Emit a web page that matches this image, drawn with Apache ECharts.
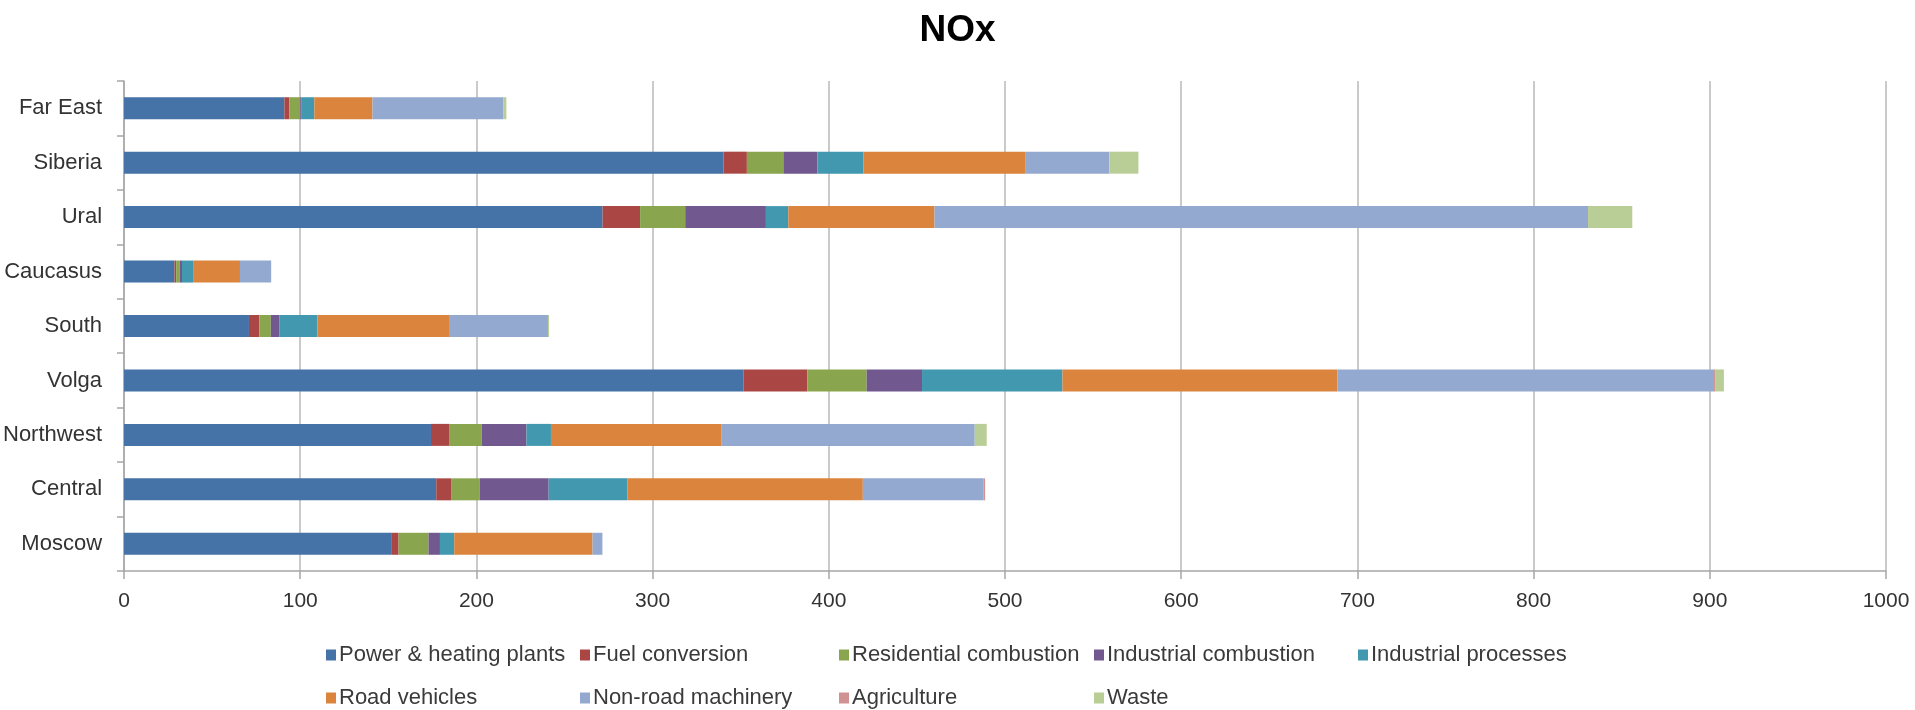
<!DOCTYPE html>
<html>
<head>
<meta charset="utf-8">
<script src="https://cdn.jsdelivr.net/npm/echarts@6/dist/echarts.min.js"></script>
<style>
html,body{margin:0;padding:0;background:#fff;}
#chart{width:1915px;height:710px;}
</style>
</head>
<body>
<div id="chart"></div>
<script>
// Categories (bottom to top, as drawn by a category y-axis)
const regions = ['Moscow', 'Central', 'Northwest', 'Volga', 'South', 'Caucasus', 'Ural', 'Siberia', 'Far East'];

// Series values, same order as regions
const powerHeating   = [152.0, 177.2, 174.2, 351.7, 70.9, 28.6, 271.6, 340.3, 91.0];
const fuelConversion = [3.8, 8.4, 10.6, 36.1, 5.9, 1.0, 21.3, 13.2, 2.8];
const residential    = [17.0, 16.2, 18.2, 33.7, 6.5, 2.0, 25.6, 20.7, 6.2];
const industrialComb = [6.5, 39.2, 25.4, 31.4, 5.0, 1.3, 45.8, 19.3, 0.5];
const industrialProc = [8.1, 44.8, 13.9, 79.7, 21.4, 6.3, 12.7, 26.2, 7.5];
const roadVehicles   = [78.5, 133.5, 96.6, 156.0, 75.2, 26.6, 83.0, 91.7, 33.0];
const nonRoad        = [5.6, 68.6, 143.9, 213.8, 55.7, 17.7, 370.9, 47.8, 74.2];
const agriculture    = [0, 0.8, 0, 0.9, 0, 0, 0, 0, 0];
const waste          = [0, 0, 6.8, 4.7, 0.6, 0, 25.1, 16.5, 1.8];

const seriesNames = ['Power & heating plants', 'Fuel conversion', 'Residential combustion',
  'Industrial combustion', 'Industrial processes', 'Road vehicles', 'Non-road machinery',
  'Agriculture', 'Waste'];
const seriesData = [powerHeating, fuelConversion, residential, industrialComb, industrialProc,
  roadVehicles, nonRoad, agriculture, waste];
const colors = ['#4572A7', '#AA4643', '#89A54E', '#71588F', '#4198AF', '#DB843D', '#93A9CF', '#D19392', '#B9CD96'];

const xTicks = {min: 0, max: 1000, interval: 100};

// legend layout (fixed positions like the original)
const legendPos = [
  [326, 644], [580, 644], [839, 644], [1094, 644], [1358, 644],
  [326, 687], [580, 687], [839, 687], [1094, 687]
];

const font = 'Liberation Sans, Arial, sans-serif';

const chart = echarts.init(document.getElementById('chart'), null, {renderer: 'canvas'});

const legends = seriesNames.map((n, i) => ({
  data: [n],
  left: legendPos[i][0],
  top: legendPos[i][1],
  orient: 'horizontal',
  icon: 'rect',
  itemWidth: 10,
  itemHeight: 11,
  itemGap: 0,
  padding: 0,
  selectedMode: false,
  textStyle: {fontFamily: font, fontSize: 22, color: '#3a3a3a', padding: [0, 0, 0, -2]}
}));

chart.setOption({
  animation: false,
  backgroundColor: '#fff',
  color: colors,
  title: {
    text: 'NOx',
    left: 'center',
    top: 7,
    textStyle: {fontFamily: font, fontSize: 37, fontWeight: 'bold', color: '#000'}
  },
  legend: legends,
  grid: {left: 123, right: 29, top: 81, bottom: 139, containLabel: false},
  xAxis: {
    type: 'value',
    min: xTicks.min,
    max: xTicks.max,
    interval: xTicks.interval,
    axisLine: {show: true, lineStyle: {color: '#a6a6a6', width: 1.5}},
    axisTick: {show: true, length: 8, lineStyle: {color: '#a6a6a6', width: 1.5}},
    axisLabel: {fontFamily: font, fontSize: 21, color: '#333', margin: 20, formatter: v => String(v)},
    splitLine: {show: true, lineStyle: {color: '#b8b8b8', width: 1.5}}
  },
  yAxis: {
    type: 'category',
    data: regions,
    boundaryGap: true,
    axisLine: {show: true, lineStyle: {color: '#a6a6a6', width: 1.5}},
    axisTick: {show: true, length: 7, alignWithLabel: false, lineStyle: {color: '#a6a6a6', width: 1.5}},
    axisLabel: {fontFamily: font, fontSize: 22, color: '#333', margin: 22}
  },
  series: seriesNames.map((n, i) => ({
    name: n,
    type: 'bar',
    stack: 'total',
    data: seriesData[i],
    barWidth: 22,
    itemStyle: {color: colors[i]},
    emphasis: {disabled: true}
  }))
});
</script>
</body>
</html>
